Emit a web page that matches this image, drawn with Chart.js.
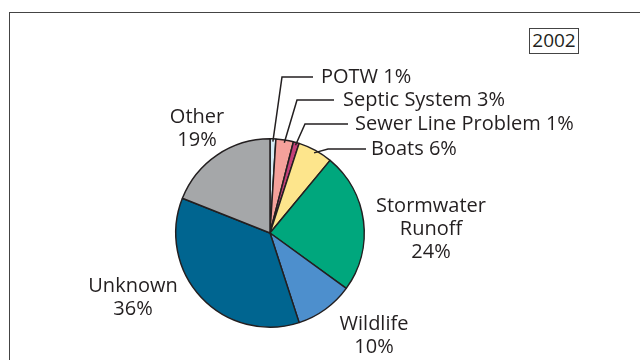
<!DOCTYPE html>
<html>
<head>
<meta charset="utf-8">
<script src="https://cdn.jsdelivr.net/npm/chart.js@4"></script>
<style>
  html, body { margin: 0; padding: 0; background: #fff; }
  #wrap { position: relative; width: 640px; height: 360px; overflow: hidden; }
  #frame { position: absolute; left: 9px; top: 12px; width: 660px; height: 400px; border: 1.5px solid #444; box-sizing: border-box; }
  #year { position: absolute; left: 529px; top: 28px; width: 50px; height: 26px; border: 1.5px solid #444; box-sizing: border-box;
          font: 19px "Open Sans", sans-serif; color: #231f20; text-align: center; line-height: 23px; }
  canvas { position: absolute; left: 0; top: 0; }
</style>
</head>
<body>
<div id="wrap">
  <div id="frame"></div>
  <div id="year">2002</div>
  <canvas id="myChart" width="640" height="360"></canvas>
</div>
<script>
// data
var categories = ['POTW', 'Septic System', 'Sewer Line Problem', 'Boats', 'Stormwater Runoff', 'Wildlife', 'Unknown', 'Other'];
var percents = [1, 3, 1, 6, 24, 10, 36, 19];
var sliceColors = ['#d4ecf5', '#f4a19b', '#c33f78', '#fde58c', '#00a77d', '#4d8fcd', '#006590', '#a5a7a9'];

// label placement (leader labels for the small slices, block labels for the rest)
var leaderLabels = {
  0: { elbowX: 282, elbowY: 77, endX: 313, textX: 321 },
  1: { elbowX: 297, elbowY: 100, endX: 334, textX: 343 },
  2: { elbowX: 305, elbowY: 124, endX: 348, textX: 355 },
  3: { elbowX: 328, elbowY: 149, endX: 366, textX: 371 }
};
var blockLabels = {
  4: { x: 431, y: 206, lines: ['Stormwater', 'Runoff'] },
  5: { x: 374, y: 324, lines: ['Wildlife'] },
  6: { x: 133, y: 286, lines: ['Unknown'] },
  7: { x: 197, y: 117, lines: ['Other'] }
};

var labelPlugin = {
  id: 'pieLabels',
  afterDraw: function(chart) {
    var ctx = chart.ctx;
    var arcs = chart.getDatasetMeta(0).data;
    ctx.save();
    ctx.fillStyle = '#231f20';
    ctx.strokeStyle = '#231f20';
    ctx.lineWidth = 1.5;
    ctx.font = '20px "Open Sans", sans-serif';
    ctx.textBaseline = 'middle';
    for (var i = 0; i < arcs.length; i++) {
      var arc = arcs[i];
      var txt = percents[i] + '%';
      if (leaderLabels[i]) {
        var L = leaderLabels[i];
        var mid = (arc.startAngle + arc.endAngle) / 2;
        var r = arc.outerRadius * 0.97;
        var sx = arc.x + Math.cos(mid) * r;
        var sy = arc.y + Math.sin(mid) * r;
        ctx.beginPath();
        ctx.moveTo(sx, sy);
        ctx.lineTo(L.elbowX, L.elbowY);
        ctx.lineTo(L.endX, L.elbowY);
        ctx.stroke();
        ctx.textAlign = 'left';
        ctx.fillText(categories[i] + ' ' + txt, L.textX, L.elbowY);
      } else if (blockLabels[i]) {
        var B = blockLabels[i];
        var lines = B.lines.concat([txt]);
        ctx.textAlign = 'center';
        for (var j = 0; j < lines.length; j++) {
          ctx.fillText(lines[j], B.x, B.y + j * 23);
        }
      }
    }
    ctx.restore();
  }
};

var ctx = document.getElementById('myChart').getContext('2d');
var myChart = new Chart(ctx, {
  type: 'pie',
  data: {
    labels: categories,
    datasets: [{
      data: percents,
      backgroundColor: sliceColors,
      borderColor: '#231f20',
      borderWidth: 1.5
    }]
  },
  options: {
    responsive: false,
    animation: false,
    layout: { padding: { left: 175, right: 275, top: 138, bottom: 32 } },
    plugins: {
      legend: { display: false },
      tooltip: { enabled: false }
    }
  },
  plugins: [labelPlugin]
});
</script>
</body>
</html>
